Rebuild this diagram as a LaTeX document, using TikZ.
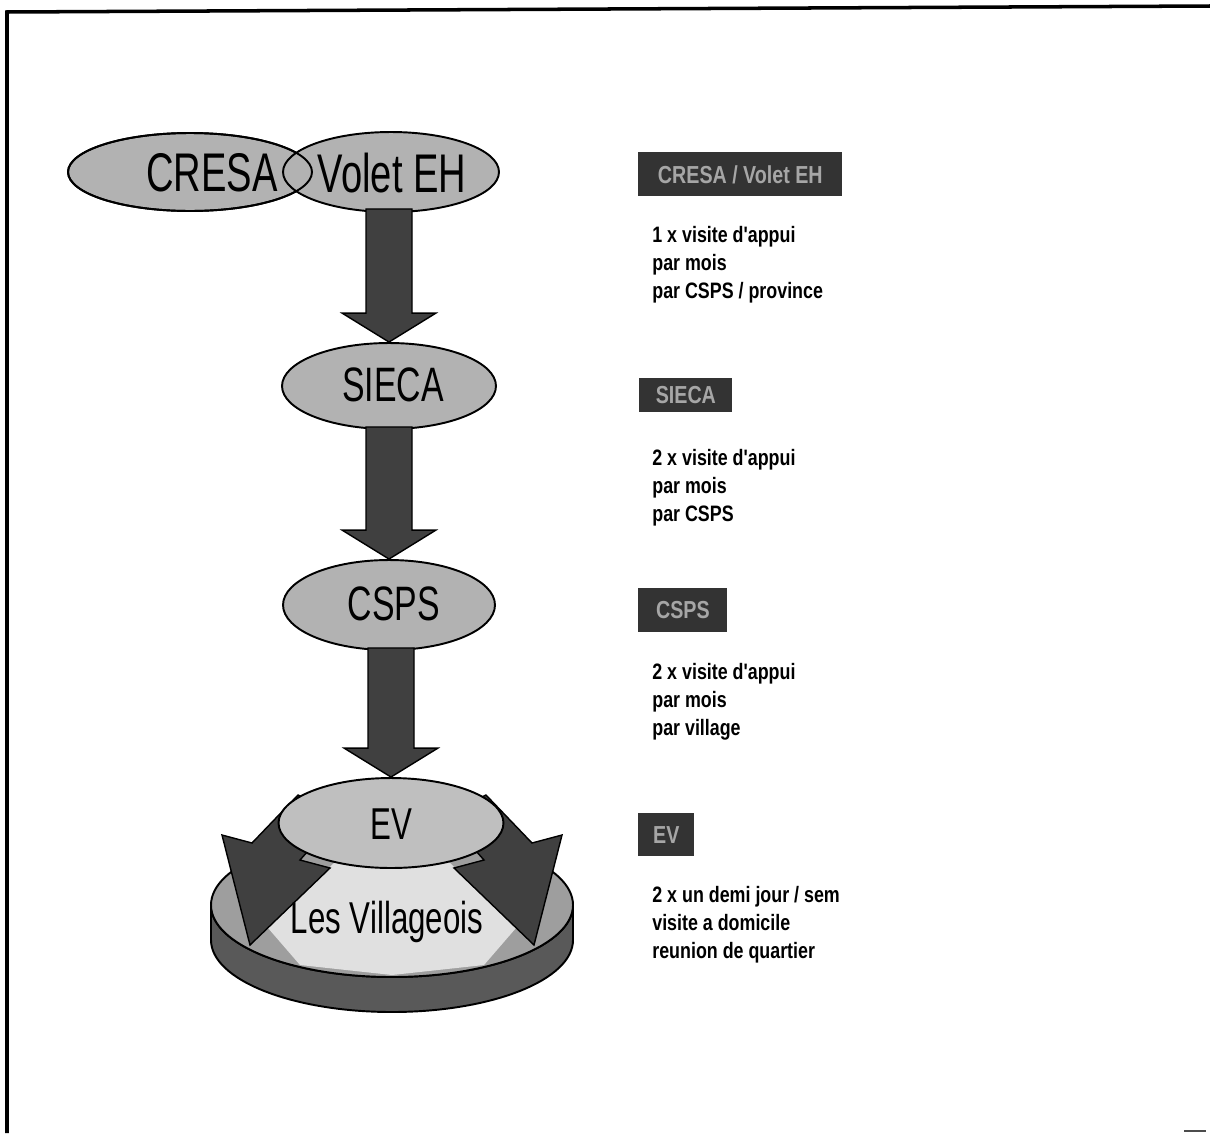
\documentclass[tikz,border=0pt]{standalone}
\usepackage{fontspec}
\setmainfont{Liberation Sans}
\newfontfamily\blobfont[FakeStretch=0.7]{Liberation Sans}
\newfontfamily\notefont[FakeStretch=0.8]{Liberation Sans}
\usetikzlibrary{calc}
\usetikzlibrary{shapes.geometric}

\begin{document}
\begin{tikzpicture}[x=0.02cm, y=0.02cm,
	blob/.style={ellipse, fill=black!30, draw=black, line width=1.1pt, inner sep=0pt},
	blobedge/.style={ellipse, draw=black, line width=1.1pt, inner sep=0pt},
	bigarrow/.style={fill=black!75, draw=black, line width=0.8pt, line join=miter},
	bigtext/.style={font=\blobfont\fontsize{31}{33}\selectfont, inner sep=0pt},
	midtext/.style={font=\blobfont\fontsize{27.5}{30}\selectfont, inner sep=0pt},
	lowtext/.style={font=\blobfont\fontsize{25.4}{28}\selectfont, inner sep=0pt},
	tagbox/.style={anchor=north west, fill=black!80, text=black!35, inner sep=0pt, font=\notefont\bfseries\fontsize{14}{16}\selectfont},
	note/.style={anchor=base west, align=left, inner sep=0pt, font=\notefont\bfseries\fontsize{12.7}{15.9}\selectfont}]

			\useasboundingbox (0,0) rectangle (1210,-1133);
			% frame
			\draw[line width=2pt] (7,-1133) -- (7,-12) -- (1210,-6);
			\draw[line width=0.8pt, black!70] (1184,-1131) -- (1206,-1131);

			% positions
			\coordinate (top) at (390,-172);
			\coordinate (disc) at (392,-905);

			% disc of the villagers
			\filldraw[fill=black!65, draw=black, line width=1.1pt] ($(disc)+(-181,0)$) arc[start angle=180, end angle=360, x radius=181, y radius=72] -- ++(0,-35) arc[start angle=0, end angle=-180, x radius=181, y radius=72] -- cycle;
			\filldraw[fill=black!38, draw=black, line width=1.1pt] (disc) ellipse[x radius=181, y radius=72];
			\fill[black!12] ($(disc)+(-57,43)$) -- ($(disc)+(-124,-23)$) -- ($(disc)+(-92,-60)$) -- ($(disc)+(0,-70)$) -- ($(disc)+(92,-60)$) -- ($(disc)+(124,-23)$) -- ($(disc)+(57,43)$) -- cycle;

			\draw[bigarrow] ($(disc)+(-94,110)$) -- ($(disc)+(-140,62)$) -- ($(disc)+(-170,70)$) -- ($(disc)+(-142,-40)$) -- ($(disc)+(-62,37)$) -- ($(disc)+(-92,45)$) -- ($(disc)+(-52,90)$) -- cycle;
			\draw[bigarrow] ($(disc)+(94,110)$) -- ($(disc)+(140,62)$) -- ($(disc)+(170,70)$) -- ($(disc)+(142,-40)$) -- ($(disc)+(62,37)$) -- ($(disc)+(92,45)$) -- ($(disc)+(52,90)$) -- cycle;

			% ellipses
			\node[blob, minimum width=4.88cm, minimum height=1.56cm] (cresa) at (190,-172) {};
			\node[blob, minimum width=4.32cm, minimum height=1.6cm] (volet) at (391,-172) {};
			\node[blobedge, minimum width=4.88cm, minimum height=1.56cm] (cresaedge) at (cresa) {};
			\node[blob, minimum width=4.28cm, minimum height=1.72cm] (sieca) at (389,-386) {};
			\node[blob, minimum width=4.24cm, minimum height=1.8cm] (csps) at (389,-605) {};

			% arrows between the levels
			\draw[bigarrow] ($(sieca.north |- volet.south)+(-23,4)$) -- ($(sieca.north)+(-23,29)$) -- ($(sieca.north)+(-47,29)$) -- (sieca.north) -- ($(sieca.north)+(47,29)$) -- ($(sieca.north)+(23,29)$) -- ($(sieca.north |- volet.south)+(23,4)$) -- cycle;
			\draw[bigarrow] ($(sieca.south)+(-23,3)$) -- ($(csps.north)+(-23,29)$) -- ($(csps.north)+(-47,29)$) -- (csps.north) -- ($(csps.north)+(47,29)$) -- ($(csps.north)+(23,29)$) -- ($(sieca.south)+(23,3)$) -- cycle;

			\node[blob, fill=black!25, minimum width=4.5cm, minimum height=1.8cm] (ev) at (391,-823) {};
			\draw[bigarrow] ($(ev.north |- csps.south)+(-23,3)$) -- ($(ev.north)+(-23,29)$) -- ($(ev.north)+(-47,29)$) -- (ev.north) -- ($(ev.north)+(47,29)$) -- ($(ev.north)+(23,29)$) -- ($(ev.north |- csps.south)+(23,3)$) -- cycle;

			% labels in the ellipses
			\node[bigtext] (cresat) at (212,-173) {CRESA};
			\node[bigtext] (volett) at (392,-173) {Volet EH};
			\node[midtext] (siecat) at (393,-385) {SIECA};
			\node[midtext] (cspst) at (394,-604) {CSPS};
			\node[lowtext] (evt) at (391,-824) {EV};
			\node[lowtext, anchor=base] (villt) at (387,-933) {Les Villageois};

			% right column
			\node[tagbox, minimum width=4.08cm, minimum height=0.88cm] (tag1) at (638,-152) {CRESA / Volet EH};
			\node[note] (note1) at (652,-298) {1 x visite d'appui\\par mois\\par CSPS / province};

			\node[tagbox, minimum width=1.86cm, minimum height=0.68cm] (tag2) at (639,-378) {SIECA};
			\node[note] (note2) at (652,-521) {2 x visite d'appui\\par mois\\par CSPS};

			\node[tagbox, minimum width=1.78cm, minimum height=0.88cm] (tag3) at (638,-588) {CSPS};
			\node[note] (note3) at (652,-735) {2 x visite d'appui\\par mois\\par village};

			\node[tagbox, minimum width=1.12cm, minimum height=0.86cm] (tag4) at (638,-813) {EV};
			\node[note] (note4) at (652,-958) {2 x un demi jour / sem\\visite a domicile\\reunion de quartier};

		\end{tikzpicture}
\end{document}
